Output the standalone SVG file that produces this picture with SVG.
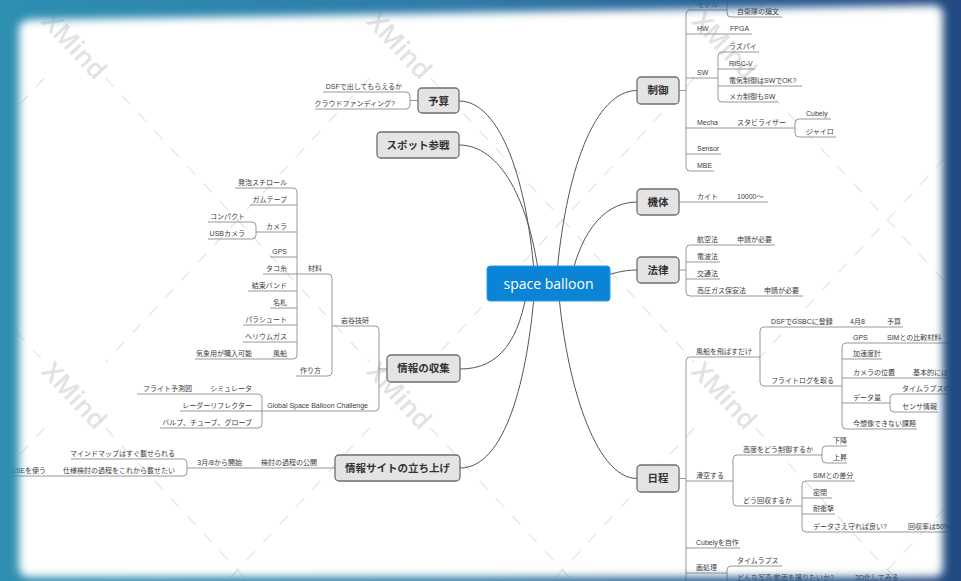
<svg xmlns="http://www.w3.org/2000/svg" width="961" height="581" viewBox="0 0 961 581">
<style>
.t{font-family:"Liberation Sans","Noto Sans CJK JP",sans-serif;font-size:7px;fill:#3c3c3c}
.e{text-anchor:end}
.u{stroke:#8c8c8c;stroke-width:0.9;fill:none}
.c{stroke:#8c8c8c;stroke-width:0.9;fill:none}
.m{fill:#e4e4e4;stroke:#6e6e6e;stroke-width:1.3}
.mt{font-family:"Noto Sans CJK JP","Liberation Sans",sans-serif;font-size:10.5px;font-weight:bold;text-anchor:middle;fill:#333}
.cv{stroke:#555;stroke-width:1;fill:none}
.wm{font-family:"Open Sans","Liberation Sans",sans-serif;font-size:26px;font-weight:600;fill:#e2e2e2;text-anchor:middle;dominant-baseline:central}
.wl{stroke:#e4e4e4;stroke-width:1.2;stroke-dasharray:12 12;fill:none}
</style>
<defs>
<linearGradient id="fg" x1="0" y1="0" x2="1" y2="0">
<stop offset="0" stop-color="#2d93b3"/>
<stop offset="0.5" stop-color="#3079a8"/>
<stop offset="1" stop-color="#22427a"/>
</linearGradient>
<filter id="blur" x="-100" y="-100" width="1161" height="781" filterUnits="userSpaceOnUse">
<feGaussianBlur stdDeviation="4.5"/>
</filter>
</defs>
<rect width="961" height="581" fill="#ffffff"/>
<g id="watermark">
<path class="wl" d="M33.2,0L44.4,12M105.6,78L369.4,362M430.6,428L572.7,581M358.2,0L369.4,12M430.6,78L694.4,362M755.6,428L897.7,581M683.2,0L694.4,12M755.6,78L961,299M0,314.2L44.4,362M105.6,428L247.7,581M116.8,0L105.6,12M44.4,78L0,125.8M441.8,0L430.6,12M369.4,78L105.6,362M44.4,428L0,475.8M766.8,0L755.6,12M694.4,78L430.6,362M369.4,428L227.3,581M961,140.8L755.6,362M694.4,428L552.3,581M961,490.8L877.3,581"/>
<text class="wm" x="75" y="45" transform="rotate(47.1 75 45)">XMind</text>
<text class="wm" x="400" y="45" transform="rotate(47.1 400 45)">XMind</text>
<text class="wm" x="725" y="45" transform="rotate(47.1 725 45)">XMind</text>
<text class="wm" x="75" y="395" transform="rotate(47.1 75 395)">XMind</text>
<text class="wm" x="400" y="395" transform="rotate(47.1 400 395)">XMind</text>
<text class="wm" x="725" y="395" transform="rotate(47.1 725 395)">XMind</text>
</g>
<g id="connectors">
<path class="cv" d="M459,101 C500,101 528,180 535,284"/>
<path class="cv" d="M459,145 C500,145 530,200 540,284"/>
<path class="cv" d="M460,369 C500,369 520,340 528,284"/>
<path class="cv" d="M460,468 C505,468 528,380 535,284"/>
<path class="cv" d="M637,90.5 C595,90.5 565,170 556,284"/>
<path class="cv" d="M637,202 C600,202 578,240 570,284"/>
<path class="cv" d="M637,270 C622,270 612,274 600,277"/>
<path class="cv" d="M637,478.5 C595,478.5 565,380 558,284"/>
<path class="c" d="M679,90.5H686M690,10Q686,10 686,14V167Q686,171 690,171"/>
<path class="c" d="M727,-10V13Q727,17 731,17"/>
<path class="c" d="M722,52Q718,52 718,56V98Q718,102 722,102"/>
<path class="c" d="M799,119Q795,119 795,123V133Q795,137 799,137"/>
<path class="c" d="M679,202H686"/>
<path class="c" d="M679,270H686M690,245Q686,245 686,249V292Q686,296 690,296"/>
<path class="c" d="M679,478.5H686M690,357Q686,357 686,361V600"/>
<path class="c" d="M764,327Q760,327 760,331V382Q760,386 764,386"/>
<path class="c" d="M846,343Q842,343 842,347V425Q842,429 846,429"/>
<path class="c" d="M894,394Q890,394 890,398V408Q890,412 894,412"/>
<path class="c" d="M737,455Q733,455 733,459V502Q733,506 737,506"/>
<path class="c" d="M826,446Q822,446 822,450V459Q822,463 826,463"/>
<path class="c" d="M806,481Q802,481 802,485V528Q802,532 806,532"/>
<path class="c" d="M731,566Q727,566 727,570V600"/>
<path class="c" d="M418,100.5H410M406,92Q410,92 410,96V105Q410,109 406,109"/>
<path class="c" d="M387,369H379M375,326Q379,326 379,330V407Q379,411 375,411"/>
<path class="c" d="M328,274Q332,274 332,278V372Q332,376 328,376"/>
<path class="c" d="M293,188Q297,188 297,192V355Q297,359 293,359"/>
<path class="c" d="M252,222Q256,222 256,226V235Q256,239 252,239"/>
<path class="c" d="M258,394Q262,394 262,398V424Q262,428 258,428"/>
<path class="c" d="M335,468H331"/>
<path class="c" d="M183,459Q187,459 187,463V472Q187,476 183,476"/>
</g>
<g id="n-center">
<rect x="487" y="266" width="123" height="35" rx="3" fill="#0b84d6" stroke="#2f9be6" stroke-width="1"/>
<text x="548.5" y="289" font-family="Open Sans, Liberation Sans, sans-serif" font-size="14" fill="#ffffff" text-anchor="middle">space balloon</text>
</g>
<g id="n-yosan"><rect class="m" x="418" y="88" width="41" height="25" rx="4"/><text class="mt" x="438.5" y="104.5">予算</text></g>
<g id="n-spot"><rect class="m" x="377" y="132" width="82" height="26" rx="4"/><text class="mt" x="418" y="148.7">スポット参戦</text></g>
<g id="n-joho"><rect class="m" x="387" y="355" width="73" height="27" rx="4"/><text class="mt" x="423.5" y="372.2">情報の収集</text></g>
<g id="n-site"><rect class="m" x="335" y="455" width="125" height="26" rx="4"/><text class="mt" x="397.5" y="471.7">情報サイトの立ち上げ</text></g>
<g id="n-seigyo"><rect class="m" x="637" y="77" width="42" height="27" rx="4"/><text class="mt" x="658" y="94.2">制御</text></g>
<g id="n-kitai"><rect class="m" x="637" y="189" width="42" height="26" rx="4"/><text class="mt" x="658" y="205.7">機体</text></g>
<g id="n-horitsu"><rect class="m" x="637" y="257" width="42" height="26" rx="4"/><text class="mt" x="658" y="273.7">法律</text></g>
<g id="n-nittei"><rect class="m" x="637" y="465" width="42" height="27" rx="4"/><text class="mt" x="658" y="482.2">日程</text></g>

<g id="n-model"><path class="u" d="M690,10H727"/><text class="t" x="697" y="6.5">モデル</text></g>
<g id="n-jieitai"><path class="u" d="M731,17H782"/><text class="t" x="737" y="14">自衛隊の論文</text></g>
<g id="n-hw"><path class="u" d="M686,34H727"/><text class="t" x="697" y="30.5">HW</text></g>
<g id="n-fpga"><path class="u" d="M727,34H752"/><text class="t" x="730" y="30.5">FPGA</text></g>
<g id="n-sw"><path class="u" d="M686,78H718"/><text class="t" x="697" y="74.5">SW</text></g>
<g id="n-raspi"><path class="u" d="M722,52H759"/><text class="t" x="729" y="48.5">ラズパイ</text></g>
<g id="n-riscv"><path class="u" d="M718,69H755"/><text class="t" x="729" y="65.5">RISC-V</text></g>
<g id="n-denki"><path class="u" d="M718,86H802"/><text class="t" x="729" y="82.5">電気制御はSWでOK?</text></g>
<g id="n-meka"><path class="u" d="M722,102H778"/><text class="t" x="729" y="98.5">メカ制御もSW</text></g>
<g id="n-mecha"><path class="u" d="M686,128H733"/><text class="t" x="697" y="124.5">Mecha</text></g>
<g id="n-stab"><path class="u" d="M733,128H795"/><text class="t" x="737" y="124.5">スタビライザー</text></g>
<g id="n-cubely"><path class="u" d="M799,119H831"/><text class="t" x="806" y="115.5">Cubely</text></g>
<g id="n-gyro"><path class="u" d="M799,137H836"/><text class="t" x="806" y="133.5">ジャイロ</text></g>
<g id="n-sensor"><path class="u" d="M686,154H721"/><text class="t" x="697" y="150.5">Sensor</text></g>
<g id="n-mbe"><path class="u" d="M690,171H714"/><text class="t" x="697" y="167.5">MBE</text></g>

<g id="n-kite"><path class="u" d="M686,202H733"/><text class="t" x="697" y="198.5">カイト</text></g>
<g id="n-10000"><path class="u" d="M733,202H768"/><text class="t" x="737" y="198.5">10000〜</text></g>

<g id="n-kokuho"><path class="u" d="M690,245H733"/><text class="t" x="697" y="241.5">航空法</text></g>
<g id="n-shinsei1"><path class="u" d="M733,245H775"/><text class="t" x="737" y="241.5">申請が必要</text></g>
<g id="n-denpa"><path class="u" d="M686,262H720"/><text class="t" x="697" y="258.5">電波法</text></g>
<g id="n-kotsu"><path class="u" d="M686,279H720"/><text class="t" x="697" y="275.5">交通法</text></g>
<g id="n-koatsu"><path class="u" d="M690,296H759"/><text class="t" x="697" y="292.5">高圧ガス保安法</text></g>
<g id="n-shinsei2"><path class="u" d="M759,296H803"/><text class="t" x="764" y="292.5">申請が必要</text></g>

<g id="n-fusen-tobasu"><path class="u" d="M690,357H760"/><text class="t" x="696" y="353.5">風船を飛ばすだけ</text></g>
<g id="n-dsfgsbc"><path class="u" d="M764,327H842"/><text class="t" x="771" y="323.5">DSFでGSBCに登録</text></g>
<g id="n-apr8"><path class="u" d="M842,327H880"/><text class="t" x="850" y="323.5">4月8</text></g>
<g id="n-yosan2"><path class="u" d="M880,327H903"/><text class="t" x="887" y="323.5">予算</text></g>
<g id="n-flightlog"><path class="u" d="M764,386H842"/><text class="t" x="771" y="382.5">フライトログを取る</text></g>
<g id="n-gps2"><path class="u" d="M846,343H880"/><text class="t" x="853" y="339.5">GPS</text></g>
<g id="n-simhikaku"><path class="u" d="M880,343H950"/><text class="t" x="887" y="339.5">SIMとの比較材料</text></g>
<g id="n-kasokudo"><path class="u" d="M842,359H882"/><text class="t" x="853" y="355.5">加速度計</text></g>
<g id="n-camerapos"><path class="u" d="M842,378H905"/><text class="t" x="853" y="374.5">カメラの位置</text></g>
<g id="n-kihon"><path class="u" d="M905,378H975"/><text class="t" x="913" y="374.5">基本的には下方</text></g>
<g id="n-datarYo"><path class="u" d="M842,403H890"/><text class="t" x="853" y="399.5">データ量</text></g>
<g id="n-timelapserate"><path class="u" d="M894,394H975"/><text class="t" x="902" y="390.5">タイムラプスのレート</text></g>
<g id="n-sensorinfo"><path class="u" d="M894,412H938"/><text class="t" x="902" y="408.5">センサ情報</text></g>
<g id="n-imasozo"><path class="u" d="M846,429H917"/><text class="t" x="853" y="425.5">今想像できない課題</text></g>
<g id="n-kakku"><path class="u" d="M686,481H733"/><text class="t" x="696" y="477.5">滑空する</text></g>
<g id="n-kodo"><path class="u" d="M737,455H822"/><text class="t" x="743" y="451.5">高度をどう制御するか</text></g>
<g id="n-kako"><path class="u" d="M826,446H847"/><text class="t" x="833" y="442.5">下降</text></g>
<g id="n-josho"><path class="u" d="M826,463H847"/><text class="t" x="833" y="459.5">上昇</text></g>
<g id="n-kaishu"><path class="u" d="M737,506H802"/><text class="t" x="743" y="502.5">どう回収するか</text></g>
<g id="n-simsabun"><path class="u" d="M806,481H855"/><text class="t" x="813" y="477.5">SIMとの差分</text></g>
<g id="n-mippei"><path class="u" d="M802,498H832"/><text class="t" x="813" y="494.5">密閉</text></g>
<g id="n-taishogeki"><path class="u" d="M802,514H835"/><text class="t" x="813" y="510.5">耐衝撃</text></g>
<g id="n-datasae"><path class="u" d="M806,532H900"/><text class="t" x="813" y="528.5">データさえ守れば良い?</text></g>
<g id="n-kaishuritsu"><path class="u" d="M900,532H980"/><text class="t" x="908" y="528.5">回収率は50%程度</text></g>
<g id="n-cubelyjisaku"><path class="u" d="M686,548H740"/><text class="t" x="696" y="544.5">Cubelyを自作</text></g>
<g id="n-gashori"><path class="u" d="M686,573H727"/><text class="t" x="696" y="569.5">画処理</text></g>
<g id="n-timelapse"><path class="u" d="M731,566H782"/><text class="t" x="737" y="562.5">タイムラプス</text></g>
<g id="n-donna"><path class="u" d="M727,584H845"/><text class="t" x="737" y="579.5">どんな写真/動画を撮りたいか?</text></g>
<g id="n-3d"><path class="u" d="M845,584H905"/><text class="t" x="855" y="579.5">3D化してみる</text></g>

<g id="n-dsf"><path class="u" d="M323,92H406"/><text class="t e" x="402" y="88.5">DSFで出してもらえるか</text></g>
<g id="n-crowd"><path class="u" d="M315,109H406"/><text class="t e" x="395" y="105.5">クラウドファンディング?</text></g>

<g id="n-iwaya"><path class="u" d="M332,326H375"/><text class="t e" x="369" y="322.5">岩谷技研</text></g>
<g id="n-zairyo"><path class="u" d="M297,274H328"/><text class="t e" x="322" y="270.5">材料</text></g>
<g id="n-tsukurikata"><path class="u" d="M296,376H328"/><text class="t e" x="321" y="372.5">作り方</text></g>
<g id="n-happo"><path class="u" d="M235,188H293"/><text class="t e" x="287" y="184.5">発泡スチロール</text></g>
<g id="n-gum"><path class="u" d="M250,205H297"/><text class="t e" x="287" y="201.5">ガムテープ</text></g>
<g id="n-camera"><path class="u" d="M256,232H297"/><text class="t e" x="287" y="228.5">カメラ</text></g>
<g id="n-compact"><path class="u" d="M208,222H252"/><text class="t e" x="245" y="218.5">コンパクト</text></g>
<g id="n-usbcam"><path class="u" d="M208,239H252"/><text class="t e" x="245" y="235.5">USBカメラ</text></g>
<g id="n-gps1"><path class="u" d="M270,257H297"/><text class="t e" x="287" y="253.5">GPS</text></g>
<g id="n-tako"><path class="u" d="M263,274H297"/><text class="t e" x="287" y="270.5">タコ糸</text></g>
<g id="n-kessoku"><path class="u" d="M248,291H297"/><text class="t e" x="287" y="287.5">結束バンド</text></g>
<g id="n-nafuda"><path class="u" d="M270,308H297"/><text class="t e" x="287" y="304.5">名札</text></g>
<g id="n-para"><path class="u" d="M243,325H297"/><text class="t e" x="287" y="321.5">パラシュート</text></g>
<g id="n-helium"><path class="u" d="M243,342H297"/><text class="t e" x="287" y="338.5">ヘリウムガス</text></g>
<g id="n-fusen"><path class="u" d="M270,359H293"/><text class="t e" x="287" y="355.5">風船</text></g>
<g id="n-kisho"><path class="u" d="M195,359H270"/><text class="t e" x="252" y="355.5">気象用が購入可能</text></g>
<g id="n-gsbc"><path class="u" d="M262,411H375"/><text class="t e" x="368" y="407.5">Global Space Balloon Challenge</text></g>
<g id="n-sim"><path class="u" d="M200,394H258"/><text class="t e" x="252" y="390.5">シミュレータ</text></g>
<g id="n-yosoku"><path class="u" d="M137,394H200"/><text class="t e" x="192" y="390.5">フライト予測図</text></g>
<g id="n-radar"><path class="u" d="M180,411H262"/><text class="t e" x="252" y="407.5">レーダーリフレクター</text></g>
<g id="n-valve"><path class="u" d="M160,428H258"/><text class="t e" x="252" y="424.5">バルブ、チューブ、グローブ</text></g>

<g id="n-kento"><path class="u" d="M260,468H331"/><text class="t e" x="317" y="464.5">検討の過程の公開</text></g>
<g id="n-mar8"><path class="u" d="M187,468H260"/><text class="t e" x="242" y="464.5">3月/8から開始</text></g>
<g id="n-mindmap"><path class="u" d="M71,459H183"/><text class="t e" x="175" y="455.5">マインドマップはすぐ載せられる</text></g>
<g id="n-shiyo"><path class="u" d="M64,476H183"/><text class="t e" x="175" y="472.5">仕様検討の過程をこれから載せたい</text></g>
<g id="n-mbse"><path class="u" d="M-10,476H64"/><text class="t e" x="46" y="472.5">MBSEを使う</text></g>

<g id="frame" filter="url(#blur)">
<path fill="url(#fg)" fill-rule="evenodd" d="M-80,-80H1041V661H-80Z M31,19.8L933,5.2Q943,5 943,15V567Q943,577 933,577H29Q19,577 19,567V30Q19,20 31,19.8Z"/>
</g>
</svg>
